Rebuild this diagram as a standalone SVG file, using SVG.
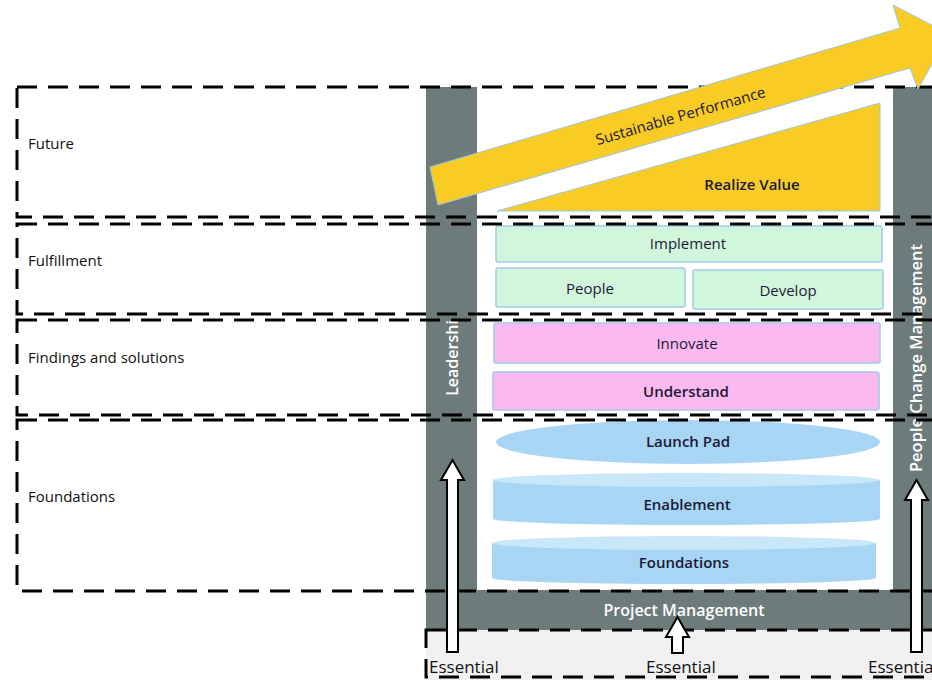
<svg xmlns="http://www.w3.org/2000/svg" width="932" height="680" viewBox="0 0 932 680">
<style>
.band{fill:none;stroke:#000;stroke-width:3;stroke-dasharray:20 11}
.lbl{font-family:"Open Sans","Liberation Sans",sans-serif;font-size:15px;fill:#111}
.box{font-family:"Open Sans","Liberation Sans",sans-serif;font-size:15px;fill:#1a1a36;text-anchor:middle}
.wt{font-family:"Open Sans","Liberation Sans",sans-serif;font-weight:600;fill:#fff;text-anchor:middle}
.green{fill:#d2f6dc;stroke:#9ecbe8;stroke-width:1.5}
.pink{fill:#fbb9f0;stroke:#9ecbe8;stroke-width:1.5}
.blue{fill:#a8d5f3}
.blueTop{fill:#c8e7f9}
.gray{fill:#6e7b7b}
.up{fill:#fff;stroke:#000;stroke-width:2}
.ess{font-family:"Open Sans","Liberation Sans",sans-serif;font-size:17px;fill:#111}
</style>
<rect width="932" height="680" fill="#fff"/>
<g id="essentials-area">
<rect x="426" y="630" width="506" height="50" fill="#f1f1f1"/>
</g>
<g id="frame">
<rect class="gray" x="426" y="87" width="51" height="543"/>
<rect class="gray" x="893" y="87" width="39" height="543"/>
<rect class="gray" x="426" y="590" width="506" height="40"/>
<text class="wt" font-size="16" x="684" y="616">Project Management</text>
<text class="wt" font-size="16" transform="translate(458,358) rotate(-90)">Leadershi</text>
<text class="wt" font-size="16.5" transform="translate(922,358) rotate(-90)">People Change Management</text>
</g>
<g id="realize-value">
<polygon points="497,211 880,103 880,211" fill="#f9cb25" stroke="#9cc6e0" stroke-width="1"/>
<text class="box" font-weight="600" x="752" y="190">Realize Value</text>
</g>
<g id="implement">
<rect class="green" x="496" y="226" width="386" height="36" rx="2"/>
<text class="box" x="688" y="249">Implement</text>
</g>
<g id="people">
<rect class="green" x="496" y="268" width="189" height="39" rx="2"/>
<text class="box" x="590" y="294">People</text>
</g>
<g id="develop">
<rect class="green" x="693" y="270" width="190" height="39" rx="2"/>
<text class="box" x="788" y="296">Develop</text>
</g>
<g id="innovate">
<rect class="pink" x="494" y="323" width="386" height="40" rx="2"/>
<text class="box" x="687" y="349">Innovate</text>
</g>
<g id="understand">
<rect class="pink" x="493" y="372" width="386" height="38" rx="2"/>
<text class="box" font-weight="600" x="686" y="397">Understand</text>
</g>
<g id="launch-pad">
<ellipse class="blue" cx="688" cy="442" rx="192" ry="22"/>
<text class="box" font-weight="600" x="688" y="447">Launch Pad</text>
</g>
<g id="enablement">
<path class="blue" d="M493,480 L880,480 L880,519 A193.5,6 0 0 1 493,519 Z"/>
<ellipse class="blueTop" cx="686.5" cy="480" rx="193.5" ry="7"/>
<text class="box" font-weight="600" x="687" y="510">Enablement</text>
</g>
<g id="foundations">
<path class="blue" d="M492,543 L876,543 L876,578 A192,6 0 0 1 492,578 Z"/>
<ellipse class="blueTop" cx="684" cy="543" rx="192" ry="7"/>
<text class="box" font-weight="600" x="684" y="568">Foundations</text>
</g>
<g id="bands">
<rect class="band" x="17" y="87" width="950" height="130"/>
<rect class="band" x="17" y="224" width="950" height="90"/>
<rect class="band" x="17" y="320" width="950" height="95"/>
<rect class="band" x="17" y="420" width="950" height="171"/>
<rect class="band" x="426" y="630" width="520" height="47"/>
<text class="lbl" x="28" y="149">Future</text>
<text class="lbl" x="28" y="266">Fulfillment</text>
<text class="lbl" x="28" y="363">Findings and solutions</text>
<text class="lbl" x="28" y="502">Foundations</text>
</g>
<g id="sustainable-performance">
<polygon points="430,167 900,28 893,5 949,34 918,89 910,68 438,205" fill="#f9cb25" stroke="#9cc6e0" stroke-width="1"/>
<text class="box" font-weight="500" transform="translate(682,121) rotate(-16)">Sustainable Performance</text>
</g>
<g id="connectors">
<path class="up" d="M447,652 L447,480 L441,480 L452.5,460 L464,480 L458,480 L458,652 Z"/>
<path class="up" d="M672,653 L672,637 L666,637 L677.5,617 L689,637 L683,637 L683,653 Z"/>
<path class="up" d="M911,652 L911,500 L905,500 L916.5,480 L928,500 L922,500 L922,652 Z"/>
</g>
<g id="essential-labels">
<text class="ess" x="429" y="673">Essential</text>
<text class="ess" x="646" y="673">Essential</text>
<text class="ess" x="868" y="673">Essential</text>
</g>
</svg>
